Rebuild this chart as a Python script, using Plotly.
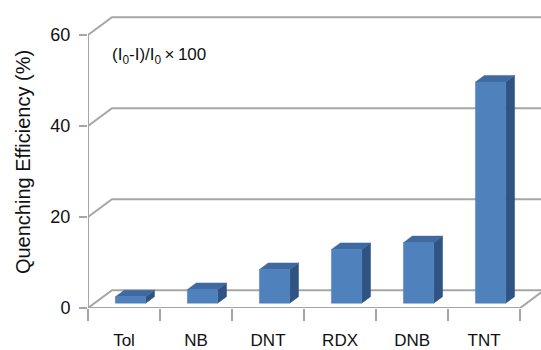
import plotly.graph_objects as go

# Quenching efficiency per analyte (%)
categories = ["Tol", "NB", "DNT", "RDX", "DNB", "TNT"]
efficiency = [1.4, 3.0, 7.4, 11.8, 13.3, 48.6]
y_ticks = [0, 20, 40, 60]

# pseudo-3D projection: depth shifts right (category units) and up (value units)
DX, DY = 0.333, 3.9
X0, X1 = -0.5, len(categories) - 0.5
XMAX = 5.79
YMAX = 64.15
BAR_W = 0.42
D_FRONT, D_BACK = 0.27, 0.64

GRID = "#a6a6a6"
FRONT = "#4f81bd"
TOP = "#3e6aa1"
SIDE = "#2f5483"


def proj(x, v, d):
    return x + d * DX, v + d * DY


fig = go.Figure()


def add_line(xs, ys, color=GRID, width=2):
    fig.add_trace(go.Scatter(x=xs, y=ys, mode="lines", hoverinfo="skip",
                             line=dict(color=color, width=width), showlegend=False))


def add_poly(pts, color):
    xs = [p[0] for p in pts] + [pts[0][0]]
    ys = [p[1] for p in pts] + [pts[0][1]]
    fig.add_trace(go.Scatter(x=xs, y=ys, mode="lines", fill="toself", fillcolor=color,
                             line=dict(color=color, width=0.5), hoverinfo="skip",
                             showlegend=False))


# back-wall gridlines with their diagonal along the side wall
for v in y_ticks:
    bx, by = proj(X0, v, 1)
    add_line([X0, bx, XMAX + 1], [v, by, by])

# left wall front edge
add_line([X0, X0], [0, y_ticks[-1]])

# floor: front edge and right-hand diagonal
rx, ry = proj(X1, 0, 1)
add_line([X0, X1, rx], [0, 0, ry])

# bars as three visible faces
for i, val in enumerate(efficiency):
    xl, xr = i - BAR_W / 2, i + BAR_W / 2
    f_bl, f_br = proj(xl, 0, D_FRONT), proj(xr, 0, D_FRONT)
    f_tl, f_tr = proj(xl, val, D_FRONT), proj(xr, val, D_FRONT)
    b_br, b_tl, b_tr = proj(xr, 0, D_BACK), proj(xl, val, D_BACK), proj(xr, val, D_BACK)
    add_poly([f_br, b_br, b_tr, f_tr], SIDE)
    add_poly([f_tl, f_tr, b_tr, b_tl], TOP)
    add_poly([f_bl, f_br, f_tr, f_tl], FRONT)

# category labels on an overlaid axis
fig.add_trace(go.Scatter(x=list(range(len(categories))), y=[None] * len(categories),
                         xaxis="x2", showlegend=False, hoverinfo="skip"))

fig.add_annotation(x=-0.19, y=55.3, xref="x", yref="y", xanchor="left", yanchor="middle",
                   text="(I<sub>0</sub>-I)/I<sub>0</sub>\u2009×\u2009100", showarrow=False,
                   font=dict(size=17, color="#111111"))

fig.update_layout(
    width=541, height=350,
    margin=dict(l=88, r=0, t=16, b=40),
    paper_bgcolor="white", plot_bgcolor="white",
    font=dict(family="Liberation Sans, Arial, sans-serif", color="#111111"),
    xaxis=dict(range=[X0, XMAX], tickvals=[x - 0.5 for x in range(len(categories) + 1)],
               showticklabels=False, ticks="outside", ticklen=12, tickwidth=2,
               tickcolor=GRID, showgrid=False, zeroline=False, showline=False,
               fixedrange=True),
    xaxis2=dict(range=[X0, XMAX], overlaying="x", anchor="y", side="bottom",
                tickvals=list(range(len(categories))), ticktext=categories,
                ticks="", showgrid=False, zeroline=False, showline=False,
                tickfont=dict(size=17), ticklabelstandoff=20),
    yaxis=dict(range=[0, YMAX], tickvals=y_ticks, ticks="outside", ticklen=8,
               tickwidth=2, tickcolor=GRID, showgrid=False, zeroline=False,
               showline=False, tickfont=dict(size=18), ticklabelstandoff=5,
               title=dict(text="Quenching Efficiency (%)", font=dict(size=20), standoff=14)),
)

fig.write_html("out.html")
